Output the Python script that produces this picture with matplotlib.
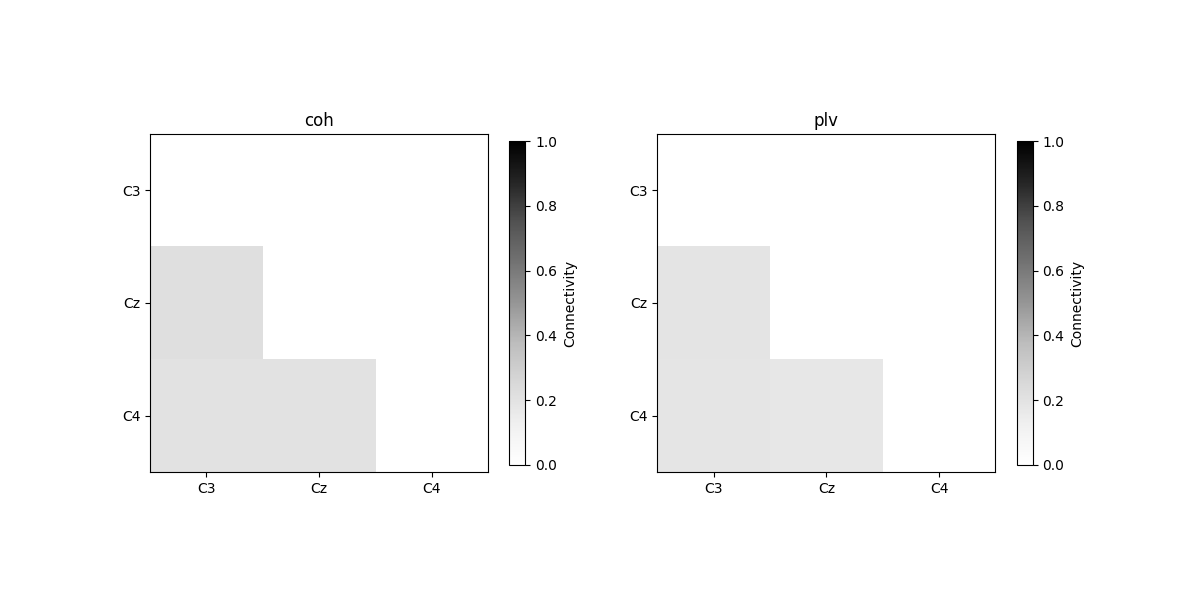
import numpy as np
import matplotlib
matplotlib.use("Agg")
import matplotlib.pyplot as plt

channels = ["C3", "Cz", "C4"]
methods = ["coh", "plv"]

# lower triangle connectivity (row, col) values
coh_vals = [[0.0, 0.0, 0.0],
            [0.217, 0.0, 0.0],
            [0.201, 0.196, 0.0]]
plv_vals = [[0.0, 0.0, 0.0],
            [0.19, 0.0, 0.0],
            [0.185, 0.174, 0.0]]

fig, axes = plt.subplots(1, 2, figsize=(12, 6))
for ax, name, vals in zip(axes, methods, [coh_vals, plv_vals]):
    im = ax.imshow(np.array(vals), cmap="Greys", vmin=0, vmax=1)
    ax.set_xticks(range(len(channels)))
    ax.set_xticklabels(channels)
    ax.set_yticks(range(len(channels)))
    ax.set_yticklabels(channels)
    ax.set_title(name)
    fig.colorbar(im, ax=ax, label="Connectivity", shrink=0.7)

plt.savefig("out.png", dpi=100)
